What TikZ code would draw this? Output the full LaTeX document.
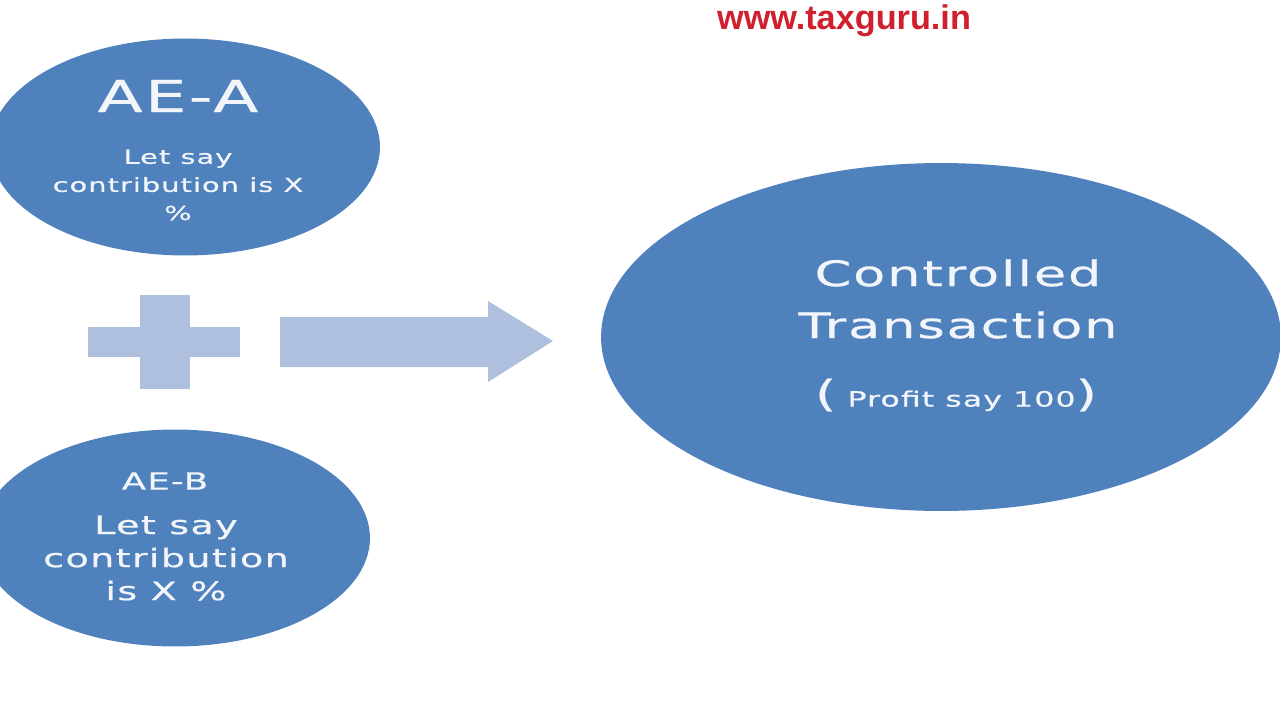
\documentclass[tikz,border=0pt]{standalone}
\usepackage{fontspec}
\usetikzlibrary{shapes.geometric, positioning}
\newfontfamily\ovalfont[FakeStretch=1.5, LetterSpace=5, FakeBold=0.6]{DejaVu Sans}
\newfontfamily\webfont{Liberation Sans}
\definecolor{ovalblue}{HTML}{4F81BD}
\definecolor{signblue}{HTML}{AFC0DE}
\definecolor{webred}{HTML}{D0202E}
\definecolor{ovaltext}{HTML}{F2F5FA}

\begin{document}
\begin{tikzpicture}[x=0.02cm, y=-0.02cm,
    oval/.style={ellipse, fill=ovalblue, inner sep=0pt},
    ovaltxt/.style={text=ovaltext, align=center, inner sep=0pt}]
\useasboundingbox (0,0) rectangle (1280,720);

% Ovals (AE-A, AE-B and the transaction)
\foreach \name/\x/\y in {aea/185/147, aeb/175/538}
{
    \node[oval, minimum width=7.8cm, minimum height=4.34cm] (\name) at (\x,\y) {};
}
\node[oval, minimum width=13.6cm, minimum height=6.96cm] (ct) at (941,337) {};

% Plus sign
\fill[signblue] (88,327) rectangle (240,357);
\fill[signblue] (140,295) rectangle (190,389);

% Block arrow
\fill[signblue] (280,317) -- (488,317) -- (488,301) -- (553,341)
    -- (488,382) -- (488,367) -- (280,367) -- cycle;

% Texts
\node[ovaltxt, font=\ovalfont\fontsize{25}{30}\selectfont] (aeahead) at (178,96) {AE-A};
\node[ovaltxt, font=\ovalfont\fontsize{11}{16}\selectfont] (aeabody) at (178,185) {Let say\\contribution is X\\\%};
\node[ovaltxt, font=\ovalfont\fontsize{13.5}{18}\selectfont] (aebhead) at (165,481) {AE-B};
\node[ovaltxt, font=\ovalfont\fontsize{14.5}{18.8}\selectfont] (aebbody) at (166,558) {Let say\\contribution\\is X \%};
\node[ovaltxt, font=\ovalfont\fontsize{20}{29.6}\selectfont] (cthead) at (958,299) {Controlled\\Transaction};
\node[ovaltxt, font=\ovalfont\fontsize{12}{16}\selectfont] (ctbody) at (956,395)
    {{\fontsize{21}{25}\selectfont(}\ Profit say 100{\fontsize{21}{25}\selectfont)}};
\node[font=\webfont\bfseries\fontsize{19.5}{23}\selectfont, text=webred, inner sep=0pt] (web) at (844,21) {www.taxguru.in};

\end{tikzpicture}
\end{document}
